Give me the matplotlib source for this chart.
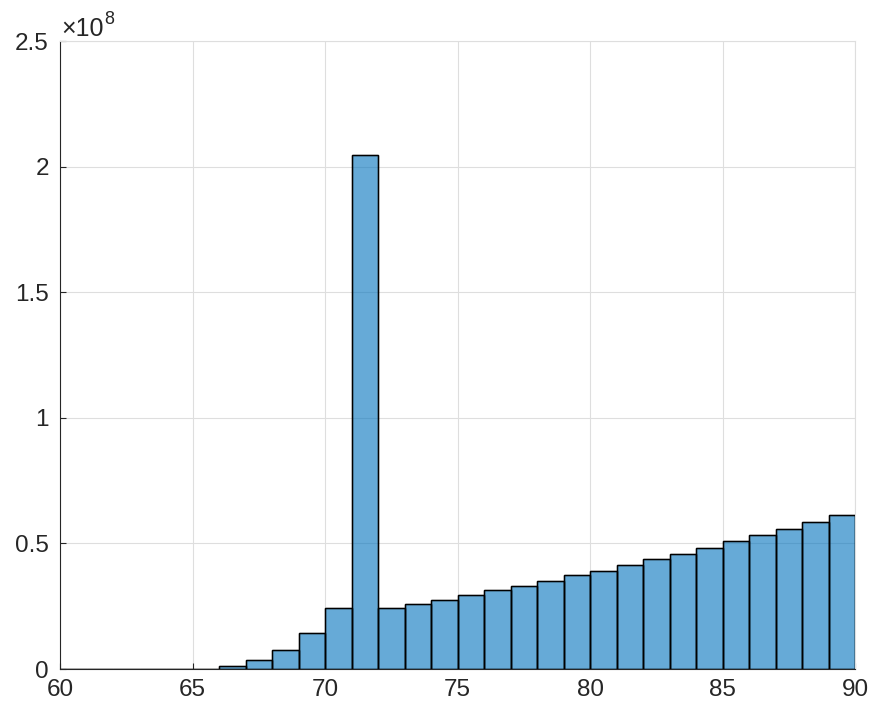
import numpy as np
import matplotlib
matplotlib.use('Agg')
import matplotlib.pyplot as plt
from matplotlib.ticker import FuncFormatter

# bordas dos bins (largura 1) e alturas em unidades de 1e8
bordas = list(range(60, 91))
alturas = [0, 0, 0, 0, 0, 0,
           0.011, 0.035, 0.076, 0.142, 0.243, 2.047, 0.243, 0.258, 0.276,
           0.295, 0.313, 0.332, 0.350, 0.374, 0.391, 0.415, 0.438, 0.458,
           0.480, 0.508, 0.532, 0.556, 0.584, 0.612]
xticks = [60, 65, 70, 75, 80, 85, 90]
yticks = [0, 0.5, 1, 1.5, 2, 2.5]

plt.rcParams['font.family'] = ['Liberation Sans', 'DejaVu Sans']

fig = plt.figure(figsize=(8.71, 7.11), dpi=100)
ax = fig.add_axes([60 / 871, 1 - 669 / 711, 795 / 871, 628 / 711])

valores = np.array(alturas) * 1e8
ax.bar(bordas[:-1], valores, width=1, align='edge',
       color=(0, 0.447, 0.741), alpha=0.6, edgecolor='black', linewidth=1.0, zorder=3)
ax.bar(bordas[:-1], valores, width=1, align='edge',
       facecolor='none', edgecolor='black', linewidth=1.0, zorder=4)

ax.set_xlim(60, 90)
ax.set_ylim(0, 2.5e8)
ax.set_xticks(xticks)
ax.set_yticks([v * 1e8 for v in yticks])
ax.yaxis.set_major_formatter(FuncFormatter(lambda v, p: '%g' % (v / 1e8)))

ax.grid(True, color='#dedede', linewidth=0.8, zorder=0)
ax.set_axisbelow(True)
ax.tick_params(direction='in', length=4, width=0.8, labelsize=17.5,
               colors='#262626')
ax.tick_params(axis='x', pad=7)
ax.tick_params(axis='y', pad=8)
ax.spines['left'].set_color('#262626')
ax.spines['bottom'].set_color('#262626')
ax.spines['top'].set_color('#dedede')
ax.spines['right'].set_color('#dedede')
ax.tick_params(top=False, right=False)

# rótulo do expoente no canto superior esquerdo
fig.text(61 / 871, 1 - 36 / 711, '\u00d710', fontsize=18, color='#262626',
         ha='left', va='baseline')
fig.text(104 / 871, 1 - 24 / 711, '8', fontsize=13, color='#262626',
         ha='left', va='baseline')

plt.savefig('out.png', dpi=100)
